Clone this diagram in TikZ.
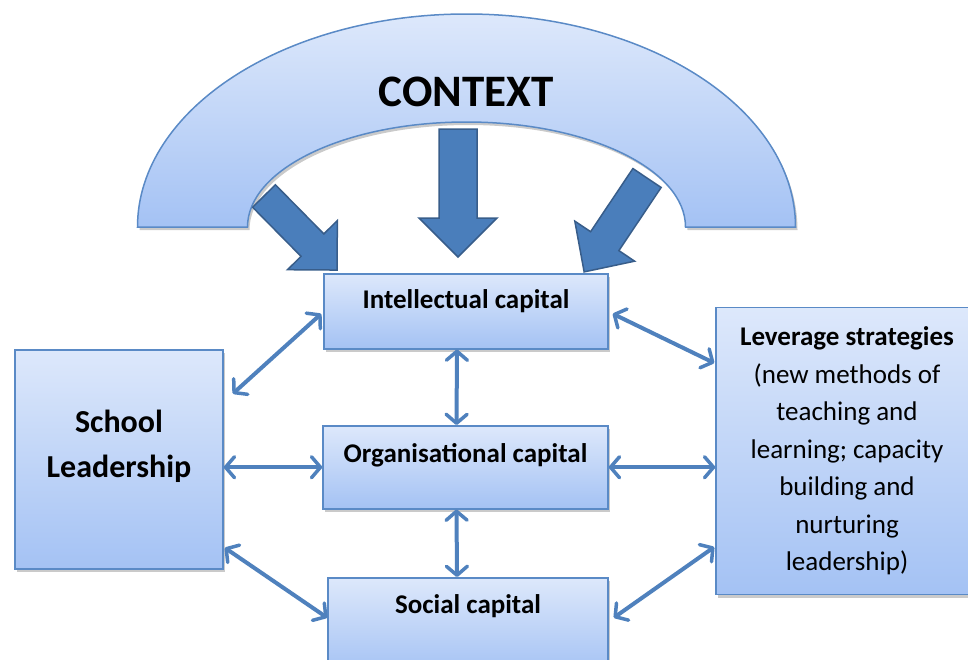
\documentclass[tikz,border=0pt]{standalone}
\usepackage{fontspec}
\setmainfont{Carlito}
\usetikzlibrary{arrows.meta,shadows}

\definecolor{boxtop}{HTML}{DDE8FB}
\definecolor{boxbot}{HTML}{A4C2F4}
\definecolor{boxline}{HTML}{5A8AC6}
\definecolor{linkblue}{HTML}{4F81BD}
\definecolor{fatfill}{HTML}{4A7EBB}
\definecolor{fatline}{HTML}{385D8A}

\tikzset{
  softshadow/.style={drop shadow={shadow xshift=2pt,shadow yshift=-3pt,opacity=.35,fill=black!60}},
  bluebox/.style={draw=boxline,line width=1.5pt,top color=boxtop,bottom color=boxbot,softshadow},
  capbox/.style={bluebox,anchor=north,inner ysep=0pt,font=\bfseries\fontsize{27}{33}\selectfont},
  link/.style={draw=linkblue,line width=4pt,
    {Straight Barb[length=9pt,width=21pt,line width=3.5pt,round]}-{Straight Barb[length=9pt,width=21pt,line width=3.5pt,round]}},
  fatarrow/.style={fill=fatfill,draw=fatline,line width=1.5pt,line join=miter},
}

\begin{document}
\begin{tikzpicture}[x=1pt,y=-1pt]
  \path[use as bounding box,clip] (0,0) rectangle (968,659);

  \path[bluebox] (137.5,227) arc[start angle=180,end angle=0,x radius=329pt,y radius=213pt]
     -- (685.5,227) arc[start angle=0,end angle=180,x radius=219pt,y radius=105pt] -- cycle;
  \node[font=\bfseries\fontsize{45}{54}\selectfont] (context) at (466,92) {CONTEXT};

  \foreach \tx/\ty/\ang/\len/\sw/\hw/\hl in {264/196/-45.4/104/16/35/35,458/129/-90/128/19/39/39,647/178/-123.8/113/17/36/37}
    \draw[fatarrow,shift={(\tx,\ty)},rotate=\ang] (0,\sw) -- (\len-\hl,\sw) -- (\len-\hl,\hw) -- (\len,0)
       -- (\len-\hl,-\hw) -- (\len-\hl,-\sw) -- (0,-\sw) -- cycle;

  \node[capbox,minimum width=284pt,text height=35pt,text depth=40pt] (intel) at (466,273) {Intellectual capital};
  \node[capbox,minimum width=285pt,text height=37pt,text depth=46pt] (orgcap) at (465.5,425) {Organisational capital};
  \node[capbox,minimum width=280pt,text height=36pt,text depth=60pt] (social) at (468,577) {Social capital};

  \node[bluebox,anchor=north,minimum width=208pt,inner ysep=0pt,text height=128pt,text depth=91pt,align=center,
        font=\bfseries\fontsize{32}{45}\selectfont] (school) at (119,349) {School\\Leadership};
  \node[bluebox,minimum width=262pt,minimum height=287pt,align=center,
        font=\fontsize{27}{37.5}\selectfont] (lever) at (847,451)
        {{\bfseries Leverage strategies}\\(new methods of\\teaching and\\learning; capacity\\building and\\nurturing\\leadership)};

  \draw[link] ([shift={(9,-65.5)}]school.east) -- ([shift={(-2,2.5)}]intel.west);
  \draw[link] (school.east |- orgcap.west) -- (orgcap.west);
  \draw[link] ([shift={(1,88.5)}]school.east) -- ([shift={(0,-8)}]social.west);
  \draw[link] ([xshift=-9pt]intel.south) -- ([xshift=-9pt]orgcap.north);
  \draw[link] ([xshift=-9pt]orgcap.south) -- ([xshift=-11pt]social.north);
  \draw[link] ([shift={(4,2.5)}]intel.east) -- ([shift={(-1,-88)}]lever.west);
  \draw[link] (orgcap.east) -- (orgcap.east -| lever.west);
  \draw[link] ([shift={(5,-8)}]social.east) -- ([shift={(-1,96)}]lever.west);
\end{tikzpicture}
\end{document}
